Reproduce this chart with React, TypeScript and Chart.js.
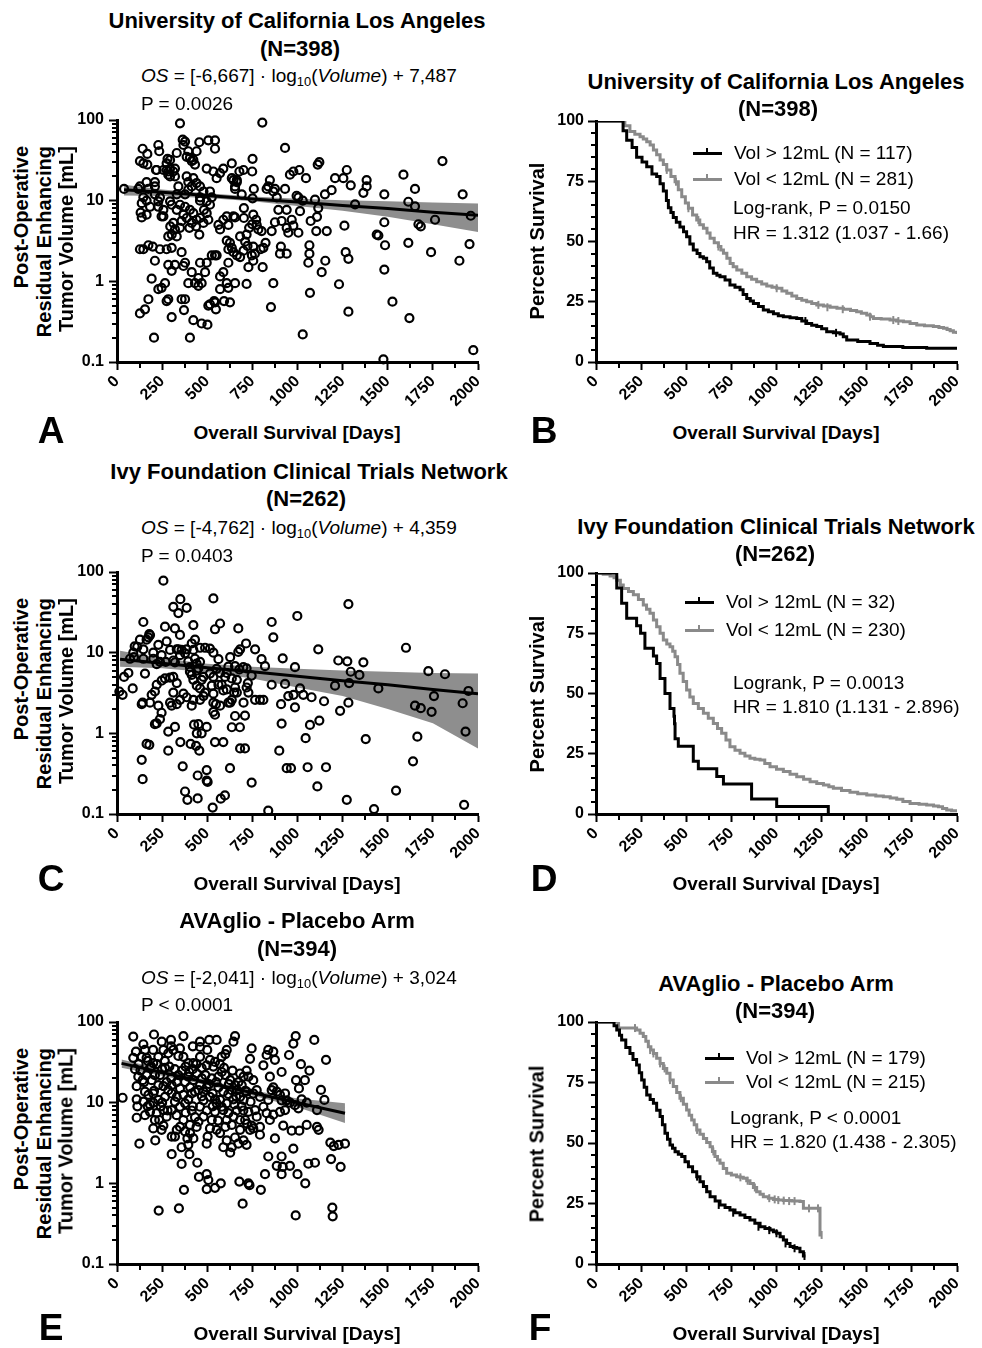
import React, { useEffect, useRef } from "react";
import { Chart, registerables } from "chart.js";

Chart.register(...registerables);

const FONT = '"Liberation Sans", Arial, Helvetica, sans-serif';
const GRAY = "#8a8a8a";
const BAND = "#8e8e8e";

// ---------- axis ticks ----------
const DAY_MAX = 2000;
const DAY_STEP = 250;
const DAY_MINOR = [125, 375, 625, 875, 1125, 1375, 1625, 1875];
const VOL_MAJOR = [0.1, 1, 10, 100];
const VOL_MINOR = [0.2, 0.3, 0.4, 0.5, 0.6, 0.7, 0.8, 0.9, 2, 3, 4, 5, 6, 7, 8, 9, 20, 30, 40, 50, 60, 70, 80, 90];
const PCT_STEP = 25;
const PCT_MINOR = [5, 10, 15, 20, 30, 35, 40, 45, 55, 60, 65, 70, 80, 85, 90, 95];

// ---------- UCLA scatter (day, volume mL) ----------
const UCLA_POINTS: [number, number][] = [
  [39,14],[349,91],[805,93],[931,45],[1803,31],[1587,21],[1651,14],[1915,12],[1481,12],[1960,6.5],[1953,2.9],[1897,1.8],[1740,2.3],[1762,5.8],[1670,5.1],[1683,4.8],[1614,9.7],[1651,8.5],[1614,3.0],[1481,5.4],[1485,2.8],[1481,1.4],[1526,0.56],[1620,0.35],[1476,0.108],[1974,0.14],[1439,3.8],[1448,3.7],[1383,18],[1383,15],[1365,12.5],[1319,9],[1295,15.5],[1273,24],[1208,19],[1254,19],[1189,13.5],[1152,12],[1121,30],[1112,28],[1010,24],[977,23],[958,21],[1047,19],[995,11.5],[1029,10],[1097,10.3],[1115,8.1],[1014,7.4],[1073,5.6],[1108,6.3],[1104,4.2],[1162,4.2],[1260,4.9],[1066,2.8],[1066,2.2],[1060,1.7],[1134,1.3],[1154,1.8],[1230,0.92],[1267,2.3],[1282,1.9],[1282,0.42],[1069,0.72],[1029,0.22],[853,0.48],[866,0.95],[829,14],[838,15],[866,13],[885,11],[847,18],[875,14],[931,14],[1005,11],[940,7.7],[894,7.7],[912,5.6],[940,4.6],[968,5.8],[977,4.9],[949,4.0],[1005,4.0],[908,2.7],[903,2.2],[940,2.2],[857,4.2],[875,5.4],[823,3.0],[801,4.2],[774,5.0],[783,4.4],[771,5.8],[807,1.5],[796,2.5],[811,2.6],[755,2.7],[764,2.2],[755,1.8],[728,1.5],[747,2.1],[723,2.75],[701,2.4],[682,2.0],[682,3.6],[710,3.1],[718,3.8],[732,4.6],[749,5.1],[755,6.7],[751,10.7],[758,14],[751,33],[749,23],[701,24],[691,12],[654,15],[678,23],[664,17],[645,18],[636,19],[654,14],[703,8.1],[703,6.1],[645,6.4],[654,6.2],[608,6.4],[589,5.8],[562,5.0],[617,5.0],[571,4.4],[608,3.2],[626,3.0],[636,2.6],[617,2.5],[645,2.3],[664,2.1],[617,1.7],[589,1.3],[608,0.95],[654,0.95],[718,0.93],[571,1.15],[571,0.8],[617,0.83],[626,0.55],[593,0.57],[543,0.55],[538,0.57],[506,0.5],[515,0.52],[548,0.45],[543,2.1],[552,2.1],[525,2.1],[497,1.7],[488,1.3],[469,0.95],[451,1.1],[432,0.95],[414,1.3],[395,0.95],[451,0.88],[460,1.7],[377,1.7],[368,1.55],[358,2.3],[321,1.6],[303,1.35],[284,1.6],[266,0.95],[229,0.8],[247,0.83],[284,0.6],[275,0.57],[358,0.6],[377,0.6],[371,0.44],[303,0.36],[423,0.33],[469,0.3],[501,0.29],[404,0.2],[205,0.2],[127,0.4],[155,0.45],[174,0.6],[192,1.08],[210,1.8],[127,2.5],[146,2.5],[174,2.8],[198,2.7],[238,2.5],[275,2.5],[303,2.6],[284,3.6],[331,3.6],[303,3.8],[321,4.4],[349,4.6],[295,4.8],[312,5.3],[358,5.6],[401,4.6],[414,5.3],[438,4.8],[456,3.8],[479,5.3],[506,5.8],[497,7.0],[482,7.7],[460,6.1],[441,5.8],[404,7.7],[377,8.4],[349,8.9],[331,7.7],[303,8.9],[294,9.8],[257,6.4],[257,7.7],[229,8.4],[229,9.8],[210,12],[238,11],[210,15],[174,14],[164,17],[127,15],[118,14],[146,11],[137,9.3],[164,10],[183,8.4],[131,7.1],[137,6.2],[164,6.7],[247,6.4],[220,24],[210,17],[257,24],[284,23],[294,20],[321,20],[340,15],[386,20],[395,17],[423,19],[441,16.5],[460,15],[479,13],[460,11],[515,13],[525,11],[497,25],[534,23],[552,19],[571,22],[589,25],[636,29],[664,18],[460,10],[497,9.8],[515,8.9],[423,7.0],[386,6.1],[368,6.7],[377,12],[395,13.7],[331,12],[414,15],[275,29],[294,25],[321,25],[280,33],[294,32],[312,23],[331,39],[386,35],[414,31],[432,28],[441,41],[456,53],[506,56],[543,56],[543,44],[364,57],[377,54],[368,49],[395,41],[404,34],[423,32],[142,44],[168,38],[229,49],[234,41],[127,31],[146,29],[168,28],[216,24],[275,24],[284,21]
];
const UCLA_FIT_X = [39, 250, 500, 750, 1000, 1250, 1500, 1750, 2000];
const UCLA_FIT = [13.7, 12.7, 11.6, 10.5, 9.6, 8.7, 8.0, 7.2, 6.6];
const UCLA_UPPER = [15.8, 13.8, 12.4, 11.3, 10.6, 10.1, 9.8, 9.5, 9.2];
const UCLA_LOWER = [11.6, 11.4, 10.8, 9.8, 8.6, 7.5, 6.3, 5.1, 4.1];

// ---------- Ivy scatter ----------
const IVY_POINTS: [number, number][] = [
  [257,78],[351,46],[534,47],[1282,40],[999,28.5],[857,24],[866,15.5],[672,20],[571,23],[543,19.5],[423,22],[266,21],[321,20],[349,16.6],[312,37],[340,31],[386,36],[146,24],[179,17],[164,14.5],[112,11.8],[90,10],[146,11],[201,10],[229,12.5],[275,13.8],[294,10.8],[331,11],[358,10.8],[386,11],[414,13],[432,14.5],[460,11.5],[488,11.5],[515,11.2],[534,10],[562,8.3],[672,10.2],[682,11],[715,13],[765,11],[801,8.3],[820,6.8],[918,8.5],[986,6.6],[1115,11],[1226,8],[1276,7.8],[1365,7.6],[1295,5.8],[1343,5.3],[1601,11.5],[1725,5.9],[1817,5.4],[1947,3.35],[1756,2.9],[1915,2.36],[1651,2.2],[1683,2.05],[1743,1.85],[1931,1.05],[1664,0.91],[1640,0.45],[1546,0.195],[1923,0.13],[1424,0.115],[1273,0.15],[838,0.11],[1448,3.6],[1286,4.2],[1282,2.4],[1236,1.9],[1208,3.9],[1147,2.5],[1121,1.44],[1069,1.27],[1045,0.87],[1378,0.85],[1056,0.38],[1158,0.38],[1110,0.22],[940,0.37],[964,0.37],[899,0.61],[912,1.32],[909,2.3],[949,2.9],[986,2.1],[1014,3.6],[1032,3.0],[1078,2.8],[931,4.1],[857,4.0],[792,2.6],[811,2.6],[746,0.245],[728,3.2],[725,4.2],[746,5.2],[718,6.4],[700,6.6],[678,6.2],[654,6.8],[617,6.7],[608,5.6],[636,4.8],[664,4.6],[649,3.2],[664,3.2],[701,2.4],[654,1.64],[709,1.66],[681,1.19],[636,1.19],[682,0.65],[709,0.65],[626,0.37],[598,0.17],[575,0.155],[530,0.12],[502,0.25],[497,0.26],[497,0.35],[447,0.3],[447,0.156],[390,0.15],[377,0.19],[364,0.39],[456,0.61],[438,0.70],[408,0.74],[351,0.78],[284,0.61],[179,0.72],[164,0.74],[137,0.47],[142,0.27],[284,1.05],[321,1.2],[442,1.0],[469,1.0],[497,1.2],[451,1.3],[427,1.28],[543,0.78],[589,0.78],[543,1.7],[534,2.4],[534,3.1],[525,3.9],[534,5.0],[515,5.5],[552,6.3],[599,5.0],[562,4.0],[589,3.4],[608,3.5],[617,2.4],[636,2.6],[488,3.2],[460,3.6],[442,3.9],[423,4.6],[414,5.3],[404,5.8],[451,6.4],[460,7.7],[432,8.4],[441,6.0],[479,5.0],[469,4.6],[479,2.9],[460,2.6],[423,2.6],[414,2.2],[386,2.8],[368,3.1],[349,2.6],[331,2.3],[303,2.2],[294,2.4],[312,3.2],[331,4.2],[312,5.0],[294,4.9],[266,4.8],[247,4.5],[220,4.0],[210,3.3],[192,3.0],[183,2.4],[229,2.2],[247,1.8],[238,1.5],[220,1.33],[210,1.3],[142,2.4],[137,2.3],[87,3.6],[31,3.0],[13,3.3],[39,5.0],[63,5.6],[94,8.8],[72,8.4],[98,12],[127,14.5],[174,15.5],[183,16.5],[146,8.4],[155,5.5],[201,8.4],[220,7.2],[238,7.7],[247,9.3],[270,7.7],[312,8.0],[321,7.6],[349,9.3],[377,9.8],[395,7.8],[404,6.6],[340,11],[423,10.8],[441,7.3],[571,5.6],[580,4.0],[627,8.8],[654,3.7],[718,3.7],[765,2.6],[627,2.4],[571,2.2],[548,2.3],[534,1.85],[978,3.0]
];
const IVY_FIT_X = [17, 250, 500, 750, 1000, 1250, 1500, 1750, 2000];
const IVY_FIT = [8.3, 7.4, 6.5, 5.8, 5.1, 4.5, 4.0, 3.5, 3.1];
const IVY_UPPER = [10.6, 8.5, 7.3, 6.7, 6.3, 6.0, 5.8, 5.6, 5.5];
const IVY_LOWER = [6.7, 6.4, 5.7, 4.8, 3.7, 2.9, 2.0, 1.33, 0.65];

// ---------- AVAglio scatter ----------
const AVA_POINTS: [number, number][] = [
  [31,11.5],[90,66],[205,70],[124,3.1],[212,3.4],[231,0.46],[343,0.49],[371,0.83],[358,1.74],[303,2.3],[401,2.3],[445,1.8],[454,1.2],[497,1.3],[506,1.1],[497,0.85],[543,0.88],[575,1.0],[678,1.05],[728,1.0],[734,0.95],[696,0.56],[797,0.83],[820,1.3],[838,2.15],[912,2.15],[912,1.3],[885,1.65],[918,1.6],[958,1.65],[1000,1.3],[1043,1.0],[1060,1.75],[1097,1.8],[1186,2.0],[1239,1.6],[1193,0.5],[1195,0.39],[990,0.4],[1182,3.2],[1201,2.9],[1228,3.0],[1263,3.1],[1158,34],[1130,14.4],[1149,10.8],[1093,60],[990,67],[977,54],[953,39],[1019,30],[1066,25],[992,19],[1041,19],[1008,15],[912,24],[1051,5.3],[1117,4.6],[1108,5],[1010,4.5],[977,2.7],[968,4.5],[921,5.2],[875,3.6],[792,4.0],[792,5.0],[746,5.2],[682,4.6],[701,3.4],[718,3.0],[672,3.1],[654,3.7],[627,2.4],[636,2.8],[608,3.4],[589,2.8],[571,4.2],[552,4.6],[654,67],[645,57],[552,60],[511,60],[460,57],[368,67],[299,60],[248,57],[146,53],[155,45],[105,43],[90,36],[100,26],[118,21],[109,16],[109,11],[113,9],[109,6.5],[155,7],[183,7.7],[142,19],[192,19],[205,14],[201,10],[242,9],[247,4.6],[257,5.2],[303,3.8],[331,4.6],[321,3.8],[358,2.8],[395,3.0],[390,3.6],[423,3.6],[441,5.0],[497,3.1],[502,3.8],[515,4.8],[432,6.6],[414,8.0],[460,8.9],[479,10.7],[497,8.0],[525,6.1],[543,7.7],[580,8.9],[608,6.1],[645,6.7],[664,8.0],[682,6.1],[710,6.1],[728,7.7],[740,10.3],[701,10.8],[682,11.8],[645,11],[608,9.8],[571,10.8],[543,11],[515,11.8],[479,13.7],[460,16.5],[451,14.3],[414,13],[395,11],[377,9.8],[349,8.9],[321,10.3],[303,8.1],[275,6.7],[257,8.1],[234,6.1],[220,7.4],[210,6.1],[201,4.8],[229,10.8],[266,11.8],[284,14.3],[303,16.5],[331,18],[349,15],[377,18],[395,21],[423,19],[442,23],[469,27],[497,29],[515,34],[534,28],[562,21],[580,24],[593,27],[627,19],[654,16.5],[682,23],[701,21],[718,25],[746,47],[737,35],[728,21],[755,19],[774,14.3],[792,11.8],[811,8.9],[829,7.4],[838,10.8],[857,14.3],[866,15.5],[847,21],[811,29],[829,39],[838,45],[866,43],[875,34],[885,13.7],[903,12.5],[931,13],[940,10.7],[958,10],[986,9.3],[1005,8.5],[1023,11],[1051,10],[1108,8.1],[903,7.7],[866,7.1],[847,6.1],[774,6.7],[765,8.1],[608,45],[580,37],[543,32],[460,37],[423,31],[395,31],[368,37],[349,47],[312,45],[284,41],[257,45],[229,37],[201,31],[183,27],[164,36],[137,37],[164,22],[238,22],[266,27],[275,18],[257,16],[229,16.5],[201,13],[174,12.5],[146,10.3],[183,9.4],[155,13.7],[368,12.5],[331,11.8],[303,13],[405,15.5],[432,13.7],[497,15.5],[525,20],[562,15.5],[589,13.7],[617,12.8],[636,14.3],[664,14.3],[673,18],[691,16.5],[552,9.8],[589,8.1],[617,7.4],[636,5.3],[737,4.6],[755,4.8],[479,6.7],[451,5.8],[404,5.3],[368,6.1],[349,5.0],[377,4.4],[405,4.2],[912,10.7],[931,8.1],[755,13],[718,13.7],[340,38],[460,49],
  [120,30],[130,25],[170,33],[190,28],[210,22],[220,30],[250,26],[265,33],[290,28],[300,20],[320,26],[340,22],[360,25],[380,28],[400,24],[420,26],[440,30],[470,20],[490,22],[510,17],[530,13],[550,18],[570,30],[600,22],[620,17],[640,25],[660,12],[690,9],[710,14],[600,40],[500,45],[420,50],[300,50],[200,45],[150,18],[170,9],[250,10],[280,8],[330,7],[380,7.5],[420,9],[470,12],[530,9],[560,6],[600,5],[650,9.5],[700,8],[720,5.5]
];
const AVA_FIT_X = [25, 250, 500, 750, 1000, 1263];
const AVA_FIT = [30.7, 23.7, 17.8, 13.3, 10.0, 7.4];
const AVA_UPPER = [34.4, 26.0, 19.0, 14.3, 11.3, 9.8];
const AVA_LOWER = [27.0, 21.5, 16.5, 12.3, 8.8, 5.6];

// ---------- Kaplan-Meier curves (day, percent survival) ----------
const UCLA_HIGH: [number, number][] = [
  [0,100],[133,100],[150,96],[170,92],[200,89],[225,85],[255,83],[281,81],[310,78],[336,77],[355,74],[373,71],[390,67],[401,64],[415,62],[428,60],[445,58],[465,56],[485,54],[502,52],[520,49],[539,46.5],[560,45],[576,43.7],[595,43],[613,41.6],[630,39],[650,36.8],[670,36],[687,35.4],[715,34],[742,32],[770,31],[798,30],[815,28],[835,26.4],[855,25.3],[872,24.3],[900,23],[927,21.6],[955,20.8],[983,20],[1010,19.2],[1038,18.8],[1075,18.4],[1112,18],[1140,17],[1167,16],[1195,15.3],[1223,14.7],[1250,13.8],[1278,12.6],[1315,12.1],[1352,11.6],[1370,10.5],[1389,9.1],[1450,8.5],[1518,7.7],[1560,7],[1592,6.4],[1700,6.0],[1832,5.7],[2000,5.7]
];
const UCLA_LOW: [number, number][] = [
  [0,100],[133,100],[160,98],[188,95.6],[215,94.5],[244,93.5],[262,92.5],[281,91.4],[300,90],[318,88],[336,86],[355,83.8],[373,82],[392,79.7],[415,77],[438,74.8],[456,71.5],[475,68.6],[495,66],[512,63.8],[535,61],[558,58.9],[575,57],[595,55.5],[615,53.5],[632,51.3],[655,49.5],[678,47.9],[692,46.5],[706,45.1],[725,43],[743,40.9],[760,39.5],[780,38.2],[808,36.8],[835,35.4],[862,34.3],[890,33.3],[918,32.4],[946,31.5],[975,31],[1001,30.6],[1030,29.5],[1057,28.5],[1085,27.4],[1112,26.4],[1140,25.6],[1167,25],[1195,24.3],[1223,23.7],[1260,23.2],[1297,22.7],[1335,22.3],[1371,21.9],[1410,21.4],[1444,20.9],[1470,20.2],[1500,19.5],[1520,18.8],[1537,18.1],[1580,17.8],[1629,17.4],[1665,17],[1703,16.7],[1740,16],[1777,15.4],[1820,15],[1869,14.7],[1900,14.3],[1925,14],[1945,13.5],[1962,13],[1980,12.3],[2000,11.6]
];
const UCLA_LOW_CENSOR: [number, number][] = [
  [392,79.7],[443,74.8],[512,63.8],[567,58.9],[678,47.9],[1001,30.6],[1232,23.7],[1282,22.7],[1367,21.9],[1518,18.8],[1647,17.4],[1675,17]
];
const UCLA_HIGH_CENSOR: [number, number][] = [[1160, 17], [1330, 12.1]];

const IVY_HIGH: [number, number][] = [
  [0,100],[115,93.75],[142,87.5],[170,81.25],[225,78.1],[247,75],[271,68.75],[318,65.6],[336,62.5],[355,56.25],[382,50],[410,43.75],[432,40.6],[435,37.5],[438,31.25],[456,28.1],[539,21.9],[567,18.75],[669,15.6],[706,12.5],[862,6.25],[1001,3.1],[1287,0]
];
const IVY_LOW: [number, number][] = [
  [0,100],[40,99.5],[78,98.8],[100,98],[115,97],[135,95],[151,93.6],[180,92.3],[207,91],[235,89],[262,86.7],[280,85],[299,83.3],[318,80.5],[336,77.7],[355,75],[373,72.2],[392,70.5],[410,69.4],[425,67.5],[438,65.3],[452,62],[465,58.4],[483,55],[502,51.5],[520,48.5],[539,45.9],[567,43.8],[595,41.8],[622,39.7],[650,37.6],[673,35.5],[696,33.5],[720,30.7],[742,27.9],[770,26.5],[798,25.2],[825,24.1],[853,23.1],[880,22.7],[909,22.4],[935,21],[964,19.6],[1000,18.6],[1038,17.6],[1075,16.5],[1112,15.5],[1150,14.4],[1186,13.4],[1223,12.7],[1260,12],[1290,11.3],[1315,10.7],[1360,9.8],[1407,9],[1450,8.4],[1500,7.9],[1550,7.5],[1592,7.2],[1630,6.6],[1666,6.1],[1700,5.2],[1740,4.4],[1790,4.0],[1832,3.7],[1870,3.3],[1897,3.0],[1920,2.3],[1943,1.7],[1970,1.3],[2000,1.0]
];

const AVA_HIGH: [number, number][] = [
  [0,100],[87,100],[100,98.5],[115,96.7],[130,94.5],[142,92.6],[165,89.5],[188,87],[205,84.5],[225,82.2],[240,79],[253,76],[267,73],[281,69.8],[300,68],[318,66.4],[336,63.5],[355,60.9],[368,57.5],[382,54],[396,51.5],[410,49.2],[424,47.8],[438,46.4],[456,45.4],[475,44.4],[493,42.3],[512,40.2],[535,38.1],[558,36.1],[576,34],[595,32],[613,29.9],[632,27.8],[660,26],[687,24.4],[715,23.3],[742,22.3],[770,21.2],[798,20.2],[825,19.2],[853,18.2],[880,16.8],[909,15.4],[936,14.7],[964,14],[983,13.3],[1001,12.7],[1020,11.3],[1038,9.9],[1056,8.5],[1075,7.2],[1093,6.8],[1112,6.5],[1130,5.1],[1149,3.3],[1160,3.3]
];
const AVA_LOW: [number, number][] = [
  [0,100],[115,100],[125,97.5],[216,97.5],[225,96.7],[244,95.3],[262,94],[276,92],[290,89.8],[304,88.4],[318,87],[336,85],[355,82.9],[373,80.8],[392,78.8],[410,76],[428,73.3],[447,70.9],[465,68.5],[484,66],[502,63.6],[516,61.5],[530,59.5],[544,57.5],[558,55.4],[576,53.6],[595,51.9],[613,50.2],[632,48.5],[645,46.5],[659,44.4],[673,43],[687,41.6],[705,39.5],[724,37.5],[750,36.8],[779,36.1],[798,35.8],[816,35.4],[835,34.4],[853,33.3],[872,31.6],[890,29.9],[909,28.8],[927,27.8],[955,27.2],[983,26.7],[1010,26.4],[1038,26.2],[1085,26],[1130,25.8],[1149,23],[1241,12],[1252,12]
];
const AVA_HIGH_CENSOR: [number, number][] = [
  [560,36.1],[680,24.4],[760,21.2],[900,15.4],[960,14],[1000,12.7],[1050,8.5],[1100,6.5],[1155,3.3]
];
const AVA_LOW_CENSOR: [number, number][] = [
  [216,97.5],[300,88.4],[318,87],[355,82.9],[380,80.8],[410,76],[470,68.5],[560,55.4],[650,46.5],[800,35.8],[840,34.4],[880,31.6],[960,27.2],[990,26.7],[1010,26.4],[1040,26.2],[1070,26],[1100,26],[1180,23],[1230,23],[1250,12]
];

// ---------- layout ----------
type Area = { l: number; t: number; r: number; b: number };
const PAD_L = 60, PAD_T = 15, PAD_R = 25, PAD_B = 60;

const minorTicks = {
  id: "minorTicks",
  afterDraw(chart: any, _args: any, opts: any) {
    const ctx = chart.ctx;
    const { left, bottom } = chart.chartArea;
    const xs = chart.scales.x;
    const ys = chart.scales.y;
    ctx.save();
    ctx.strokeStyle = "#000";
    ctx.lineWidth = 2;
    (opts.x || []).forEach((v: number) => {
      const p = Math.round(xs.getPixelForValue(v));
      ctx.beginPath();
      ctx.moveTo(p, bottom);
      ctx.lineTo(p, bottom + 6);
      ctx.stroke();
    });
    (opts.y || []).forEach((v: number) => {
      const p = Math.round(ys.getPixelForValue(v));
      ctx.beginPath();
      ctx.moveTo(left, p);
      ctx.lineTo(left - 5, p);
      ctx.stroke();
    });
    ctx.restore();
  },
};

const tickFont = { family: FONT, size: 16, weight: "bold" as const };
const axisGrid = { display: true, drawOnChartArea: false, drawTicks: true, tickLength: 8, tickWidth: 2, tickColor: "#000" };
const axisBorder = { display: true, width: 3, color: "#000" };

function dayAxis() {
  return {
    type: "linear",
    min: 0,
    max: DAY_MAX,
    ticks: {
      stepSize: DAY_STEP, autoSkip: false, minRotation: 45, maxRotation: 45,
      font: tickFont, color: "#000", padding: 2,
      callback: (v: any) => String(v),
    },
    grid: axisGrid,
    border: axisBorder,
    afterFit: (s: any) => { s.height = PAD_B; },
  };
}

function volAxis() {
  return {
    type: "logarithmic",
    min: 0.1,
    max: 100,
    afterBuildTicks: (s: any) => { s.ticks = VOL_MAJOR.map((v) => ({ value: v })); },
    ticks: { autoSkip: false, font: tickFont, color: "#000", padding: 5, callback: (v: any) => String(v) },
    grid: axisGrid,
    border: axisBorder,
    afterFit: (s: any) => { s.width = PAD_L; },
  };
}

function pctAxis() {
  return {
    type: "linear",
    min: 0,
    max: 100,
    ticks: { stepSize: PCT_STEP, autoSkip: false, font: tickFont, color: "#000", padding: 4, callback: (v: any) => String(v) },
    grid: axisGrid,
    border: axisBorder,
    afterFit: (s: any) => { s.width = PAD_L; },
  };
}

function baseOptions(yAxis: any, yMinor: number[]) {
  return {
    responsive: false,
    maintainAspectRatio: false,
    animation: false,
    devicePixelRatio: 1,
    events: [],
    layout: { padding: { left: 0, top: PAD_T, right: PAD_R, bottom: 0 } },
    scales: { x: dayAxis(), y: yAxis },
    plugins: {
      legend: { display: false },
      tooltip: { enabled: false },
      minorTicks: { x: DAY_MINOR, y: yMinor },
    },
  };
}

function scatterConfig(points: [number, number][], fx: number[], fit: number[], up: number[], lo: number[]) {
  return {
    type: "line",
    data: {
      datasets: [
        { data: fx.map((x, i) => ({ x, y: fit[i] })), borderColor: "#000", borderWidth: 3, pointRadius: 0, fill: false, order: 0 },
        {
          data: points.map(([x, y]) => ({ x, y })), showLine: false, pointRadius: 4, pointBorderWidth: 2.2,
          pointBorderColor: "#000", pointBackgroundColor: "rgba(255,255,255,0)", borderColor: "#000", order: 1, clip: false,
        },
        { data: fx.map((x, i) => ({ x, y: up[i] })), borderWidth: 0, pointRadius: 0, fill: "+1", backgroundColor: BAND, borderColor: BAND, order: 2 },
        { data: fx.map((x, i) => ({ x, y: lo[i] })), borderWidth: 0, pointRadius: 0, fill: false, borderColor: BAND, order: 3 },
      ],
    },
    options: baseOptions(volAxis(), VOL_MINOR),
    plugins: [minorTicks],
  };
}

function kmConfig(high: [number, number][], low: [number, number][], highC: [number, number][], lowC: [number, number][]) {
  const toXY = (a: [number, number][]) => a.map(([x, y]) => ({ x, y }));
  const cens = (data: [number, number][], color: string, order: number) => ({
    data: toXY(data), showLine: false, pointStyle: "line", pointRotation: 90, pointRadius: 4,
    pointBorderWidth: 2, pointBorderColor: color, borderColor: color, order, clip: false,
  });
  return {
    type: "line",
    data: {
      datasets: [
        { data: toXY(high), stepped: true, borderColor: "#000", borderWidth: 3, pointRadius: 0, fill: false, order: 0 },
        cens(highC, "#000", 1),
        { data: toXY(low), stepped: true, borderColor: GRAY, borderWidth: 3, pointRadius: 0, fill: false, order: 2 },
        cens(lowC, GRAY, 3),
      ],
    },
    options: baseOptions(pctAxis(), PCT_MINOR),
    plugins: [minorTicks],
  };
}

function ChartBox({ area, build }: { area: Area; build: () => any }) {
  const ref = useRef<HTMLCanvasElement>(null);
  useEffect(() => {
    const chart = new Chart(ref.current as HTMLCanvasElement, build());
    return () => chart.destroy();
  }, []);
  const w = area.r - area.l + PAD_L + PAD_R;
  const h = area.b - area.t + PAD_T + PAD_B;
  return (
    <canvas
      ref={ref}
      width={w}
      height={h}
      style={{ position: "absolute", left: area.l - PAD_L, top: area.t - PAD_T, width: w, height: h }}
    />
  );
}

// ---------- text helpers ----------
function Txt({ x, y, size = 19, bold = false, center = false, children }: any) {
  return (
    <div
      style={{
        position: "absolute", left: x, top: y,
        transform: center ? "translate(-50%,-50%)" : "translateY(-50%)",
        fontSize: size, fontWeight: bold ? 700 : 400, whiteSpace: "nowrap", lineHeight: 1.15,
      }}
    >
      {children}
    </div>
  );
}

function RotEnd({ cx, yTop, children }: any) {
  return (
    <div
      style={{
        position: "absolute", left: cx, top: yTop, transformOrigin: "0 0",
        transform: "rotate(-90deg) translate(-100%, -50%)",
        fontSize: 20, fontWeight: 700, whiteSpace: "nowrap", lineHeight: 1.15,
      }}
    >
      {children}
    </div>
  );
}

function RotCenter({ cx, cy, children }: any) {
  return (
    <div
      style={{
        position: "absolute", left: cx, top: cy, transform: "translate(-50%,-50%) rotate(-90deg)",
        fontSize: 20, fontWeight: 700, whiteSpace: "nowrap", lineHeight: 1.15,
      }}
    >
      {children}
    </div>
  );
}

function LegendRow({ x, y, color, label }: any) {
  return (
    <>
      <div style={{ position: "absolute", left: x, top: y - 1.5, width: 29, height: 3, background: color }} />
      <div style={{ position: "absolute", left: x + 13, top: y - 5, width: 2, height: 4, background: color }} />
      <Txt x={x + 41} y={y}>{label}</Txt>
    </>
  );
}

const subStyle: React.CSSProperties = { fontSize: "0.68em", verticalAlign: "-0.3em", lineHeight: 0 };

function Equation({ x, y, slope, icpt }: any) {
  return (
    <Txt x={x} y={y}>
      <i>OS</i>{" = [" + slope + "] · log"}<sub style={subStyle}>10</sub>{"("}<i>Volume</i>{") + " + icpt}
    </Txt>
  );
}

function YVolTitle({ yTop }: { yTop: number }) {
  return (
    <>
      <RotEnd cx={21} yTop={yTop}>Post-Operative</RotEnd>
      <RotEnd cx={44} yTop={yTop}>Residual Enhancing</RotEnd>
      <RotEnd cx={66} yTop={yTop}>Tumor Volume [mL]</RotEnd>
    </>
  );
}

const AREA_A: Area = { l: 117, t: 120, r: 478, b: 362 };
const AREA_B: Area = { l: 596, t: 121, r: 957, b: 362 };
const AREA_C: Area = { l: 117, t: 572, r: 478, b: 814 };
const AREA_D: Area = { l: 596, t: 573, r: 957, b: 814 };
const AREA_E: Area = { l: 117, t: 1022, r: 478, b: 1264 };
const AREA_F: Area = { l: 596, t: 1022, r: 957, b: 1264 };

export default function App() {
  return (
    <div
      style={{
        position: "absolute", left: 0, top: 0, width: 982, height: 1348, background: "#fff",
        fontFamily: FONT, color: "#000", overflow: "hidden",
      }}
    >
      <ChartBox area={AREA_A} build={() => scatterConfig(UCLA_POINTS, UCLA_FIT_X, UCLA_FIT, UCLA_UPPER, UCLA_LOWER)} />
      <ChartBox area={AREA_B} build={() => kmConfig(UCLA_HIGH, UCLA_LOW, UCLA_HIGH_CENSOR, UCLA_LOW_CENSOR)} />
      <ChartBox area={AREA_C} build={() => scatterConfig(IVY_POINTS, IVY_FIT_X, IVY_FIT, IVY_UPPER, IVY_LOWER)} />
      <ChartBox area={AREA_D} build={() => kmConfig(IVY_HIGH, IVY_LOW, [], [])} />
      <ChartBox area={AREA_E} build={() => scatterConfig(AVA_POINTS, AVA_FIT_X, AVA_FIT, AVA_UPPER, AVA_LOWER)} />
      <ChartBox area={AREA_F} build={() => kmConfig(AVA_HIGH, AVA_LOW, AVA_HIGH_CENSOR, AVA_LOW_CENSOR)} />

      {/* Panel A */}
      <Txt x={297} y={21} size={22} bold center>University of California Los Angeles</Txt>
      <Txt x={300} y={49} size={22} bold center>(N=398)</Txt>
      <Equation x={141} y={76} slope="-6,667" icpt="7,487" />
      <Txt x={141} y={104}>P = 0.0026</Txt>
      <YVolTitle yTop={146} />
      <Txt x={297} y={433} bold center>Overall Survival [Days]</Txt>
      <Txt x={51} y={431} size={37} bold center>A</Txt>

      {/* Panel B */}
      <Txt x={776} y={82} size={22} bold center>University of California Los Angeles</Txt>
      <Txt x={778} y={109} size={22} bold center>(N=398)</Txt>
      <LegendRow x={693} y={153} color="#000" label={"Vol > 12mL (N = 117)"} />
      <LegendRow x={693} y={179} color={GRAY} label={"Vol < 12mL (N = 281)"} />
      <Txt x={733} y={208}>Log-rank, P = 0.0150</Txt>
      <Txt x={733} y={233}>HR = 1.312 (1.037 - 1.66)</Txt>
      <RotCenter cx={537} cy={241}>Percent Survival</RotCenter>
      <Txt x={776} y={433} bold center>Overall Survival [Days]</Txt>
      <Txt x={544} y={431} size={37} bold center>B</Txt>

      {/* Panel C */}
      <Txt x={309} y={472} size={22} bold center>Ivy Foundation Clinical Trials Network</Txt>
      <Txt x={306} y={499} size={22} bold center>(N=262)</Txt>
      <Equation x={141} y={528} slope="-4,762" icpt="4,359" />
      <Txt x={141} y={556}>P = 0.0403</Txt>
      <YVolTitle yTop={598} />
      <Txt x={297} y={884} bold center>Overall Survival [Days]</Txt>
      <Txt x={51} y={879} size={37} bold center>C</Txt>

      {/* Panel D */}
      <Txt x={776} y={527} size={22} bold center>Ivy Foundation Clinical Trials Network</Txt>
      <Txt x={775} y={554} size={22} bold center>(N=262)</Txt>
      <LegendRow x={685} y={602} color="#000" label={"Vol > 12mL (N = 32)"} />
      <LegendRow x={685} y={630} color={GRAY} label={"Vol < 12mL (N = 230)"} />
      <Txt x={733} y={683}>Logrank, P = 0.0013</Txt>
      <Txt x={733} y={707}>HR = 1.810 (1.131 - 2.896)</Txt>
      <RotCenter cx={537} cy={694}>Percent Survival</RotCenter>
      <Txt x={776} y={884} bold center>Overall Survival [Days]</Txt>
      <Txt x={544} y={879} size={37} bold center>D</Txt>

      {/* Panel E */}
      <Txt x={297} y={921} size={22} bold center>AVAglio - Placebo Arm</Txt>
      <Txt x={297} y={949} size={22} bold center>(N=394)</Txt>
      <Equation x={141} y={978} slope="-2,041" icpt="3,024" />
      <Txt x={141} y={1005}>P &lt; 0.0001</Txt>
      <YVolTitle yTop={1048} />
      <Txt x={297} y={1334} bold center>Overall Survival [Days]</Txt>
      <Txt x={51} y={1328} size={37} bold center>E</Txt>

      {/* Panel F */}
      <Txt x={776} y={984} size={22} bold center>AVAglio - Placebo Arm</Txt>
      <Txt x={775} y={1011} size={22} bold center>(N=394)</Txt>
      <LegendRow x={705} y={1058} color="#000" label={"Vol > 12mL (N = 179)"} />
      <LegendRow x={705} y={1082} color={GRAY} label={"Vol < 12mL (N = 215)"} />
      <Txt x={730} y={1118}>Logrank, P &lt; 0.0001</Txt>
      <Txt x={730} y={1142}>HR = 1.820 (1.438 - 2.305)</Txt>
      <RotCenter cx={537} cy={1144}>Percent Survival</RotCenter>
      <Txt x={776} y={1334} bold center>Overall Survival [Days]</Txt>
      <Txt x={540} y={1328} size={37} bold center>F</Txt>
    </div>
  );
}
